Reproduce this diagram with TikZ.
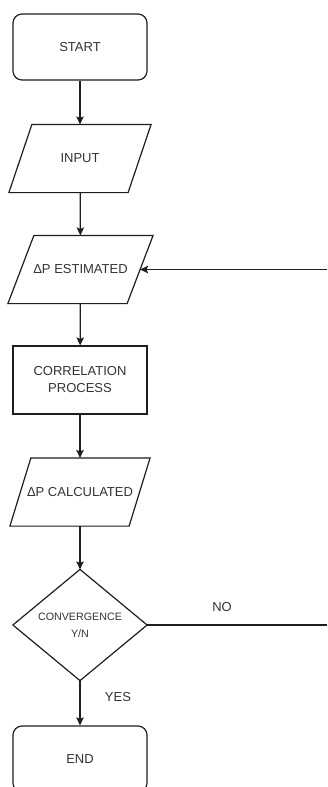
\documentclass[tikz,border=0pt]{standalone}
\usepackage{fontspec}
\setmainfont{Liberation Sans}
\usetikzlibrary{arrows.meta}
\definecolor{ln}{HTML}{1E1E1E}
\definecolor{tx}{HTML}{333333}
\begin{document}
\begin{tikzpicture}[x=1pt,y=-1pt,
  line width=1.2pt,
  lbl/.style={text=tx,font=\fontsize{13}{17}\selectfont,align=center},
  term/.style={lbl,draw=ln,rounded corners=9pt,minimum width=134pt,minimum height=66pt,inner sep=0pt},
  proc/.style={lbl,draw=ln,minimum width=134pt,minimum height=68pt,inner sep=0pt},
  io/.style={lbl,minimum width=118pt,minimum height=67pt,inner sep=0pt},
  dec/.style={text=tx,font=\fontsize{10.7}{17}\selectfont,align=center,minimum width=133pt,minimum height=110pt,inner sep=0pt},
  flow/.style={draw=ln,-{Stealth[length=8pt,width=7.5pt,inset=1.5pt]}},
  plain/.style={draw=ln}]
\clip (0,0) rectangle (327,787);
\fill[white] (0,0) rectangle (327,787);
\node[term] (start) at (80,47) {START};
\node[io] (inp) at (80,158.5) {INPUT};
\node[io] (est) at (80.5,269.5) {ΔP ESTIMATED};
\node[proc] (corr) at (80,380) {CORRELATION\\PROCESS};
\node[io] (calc) at (80,492) {ΔP CALCULATED};
\node[dec] (conv) at (80,625) {CONVERGENCE\\Y/N};
\node[term] (end) at (80,759) {END};
\coordinate (rtop) at (327,269.5);
\coordinate (rbot) at (327,625);
% parallelograms
\foreach \n/\s in {inp/11.5,est/13,calc/10.5}{
  \draw[ln] ([xshift=\s pt]\n.north west) -- ([xshift=\s pt]\n.north east)
    -- ([xshift=-\s pt]\n.south east) -- ([xshift=-\s pt]\n.south west) -- cycle;
}
% diamond
\draw[ln] (conv.north) -- (conv.east) -- (conv.south) -- (conv.west) -- cycle;
% connectors
\draw[flow] (start) -- (inp);
\draw[flow] (inp) -- (est);
\draw[flow] (est) -- (corr);
\draw[flow] (corr) -- (calc);
\draw[flow] (calc) -- (conv.north);
\draw[flow] (conv.south) -- (end);
\draw[flow] (rtop) -- (est.east);
\draw[plain] (conv.east) -- (rbot);
\node[lbl] (no) at (222,607) {NO};
\node[lbl] (yes) at (118,697) {YES};
\end{tikzpicture}
\end{document}
